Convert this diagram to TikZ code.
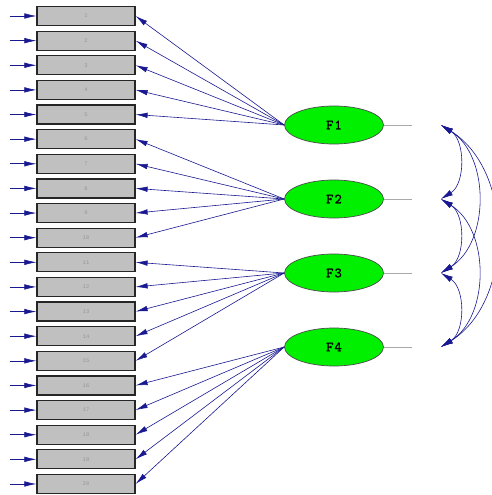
\documentclass[tikz,border=0pt]{standalone}
\usepackage{fontspec}
\newfontfamily\monofont{Liberation Mono}
\newfontfamily\fmono[FakeBold=1.6]{lmmono10-regular.otf}
\usetikzlibrary{arrows.meta,shapes.geometric}
\definecolor{navy}{RGB}{25,25,145}
\definecolor{boxgray}{RGB}{192,192,192}
\definecolor{lblgray}{RGB}{150,150,150}
\definecolor{fgreen}{RGB}{0,240,0}
\definecolor{errgray}{RGB}{170,170,170}
\begin{document}
\begin{tikzpicture}[x=1pt,y=-1pt,
  obs/.style={draw=black!85, line width=1.2pt, fill=boxgray, minimum width=98pt, minimum height=19pt, inner sep=0pt, font=\monofont\fontsize{5.5}{6}\selectfont, text=lblgray},
  lat/.style={ellipse, draw=black!70, line width=0.7pt, fill=fgreen, minimum width=99pt, minimum height=38pt, inner sep=0pt, font=\fmono\fontsize{14}{15}\selectfont},
  load/.style={navy, line width=0.6pt, -{Latex[length=12pt,width=5.5pt]}},
  errline/.style={errgray, line width=0.7pt},
  cov/.style={navy, line width=0.6pt, {Latex[length=12pt,width=6pt]}-{Latex[length=12pt,width=6pt]}}
]
\useasboundingbox (0,0) rectangle (491,495);
\fill[white] (0,0) rectangle (491,495);
\foreach \i in {1,...,20}{
  \node[obs] (x\i) at (86,{16+(\i-1)*24.63}) {\i};
  \coordinate (d\i) at (10,{16+(\i-1)*24.63});
  \draw[load] (d\i) -- (x\i.west);
}
\foreach \k/\y in {1/125,2/199,3/273,4/347}{
  \node[lat] (F\k) at (334,\y) {F\kern1pt\k};
  \coordinate (e\k) at (412,\y);
  \coordinate (c\k) at (441,\y);
  \draw[errline] (F\k.east) -- (e\k);
}
\foreach \i in {1,...,5}{\draw[load] (F1.west) -- (x\i.east);}
\foreach \i in {6,...,10}{\draw[load] (F2.west) -- (x\i.east);}
\foreach \i in {11,...,15}{\draw[load] (F3.west) -- (x\i.east);}
\foreach \i in {16,...,20}{\draw[load] (F4.west) -- (x\i.east);}
\draw[cov] (c1) to[bend left=58] (c2);
\draw[cov] (c2) to[bend left=58] (c3);
\draw[cov] (c3) to[bend left=58] (c4);
\draw[cov] (c1) to[bend left=58] (c3);
\draw[cov] (c2) to[bend left=58] (c4);
\draw[cov] (c1) to[bend left=58] (c4);
\end{tikzpicture}
\end{document}
